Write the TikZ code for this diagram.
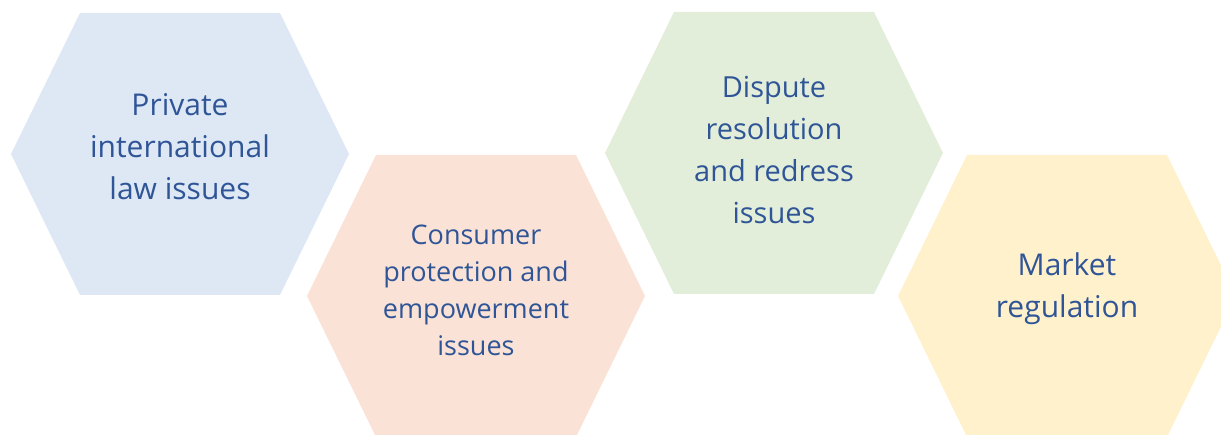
\documentclass[tikz,border=0pt]{standalone}
\usepackage{fontspec}
\setmainfont{Open Sans}
\usepackage{xcolor}
\usetikzlibrary{positioning}

\definecolor{hexblue}{HTML}{DEE8F5}
\definecolor{hexpeach}{HTML}{FAE3D6}
\definecolor{hexgreen}{HTML}{E2EEDA}
\definecolor{hexyellow}{HTML}{FFF1CC}
\definecolor{textblue}{HTML}{2F5597}

\begin{document}
\begin{tikzpicture}[x=1pt,y=1pt,
    issue/.style={align=center,text=textblue,inner sep=0pt,
      font=\fontsize{30}{42}\selectfont}]
                \useasboundingbox (0,0) rectangle (1221,434);

                % Centres des hexagones
                \coordinate (h1) at (180,280);
                \coordinate (h2) at (476,138);
                \coordinate (h3) at (774,281);
                \coordinate (h4) at (1067,138);

                % Hexagones
                \fill[hexblue] (h1) ++(-169,0) -- ++(69,141) -- ++(200,0) -- ++(69,-141) -- ++(-69,-141) -- ++(-200,0) -- cycle;
                \fill[hexpeach] (h2) ++(-169,0) -- ++(69,141) -- ++(200,0) -- ++(69,-141) -- ++(-69,-141) -- ++(-200,0) -- cycle;
                \fill[hexgreen] (h3) ++(-169,0) -- ++(69,141) -- ++(200,0) -- ++(69,-141) -- ++(-69,-141) -- ++(-200,0) -- cycle;
                \fill[hexyellow] (h4) ++(-169,0) -- ++(69,141) -- ++(200,0) -- ++(69,-141) -- ++(-69,-141) -- ++(-200,0) -- cycle;

                % Textes
                \node[issue] (private) at ([yshift=7]h1) {Private\\international\\law issues};
                \node[issue, font=\fontsize{27}{37}\selectfont] (consumer) at ([yshift=6]h2) {Consumer\\protection and\\empowerment\\issues};
                \node[issue, font=\fontsize{29}{42}\selectfont] (dispute) at ([yshift=3]h3) {Dispute\\resolution\\and redress\\issues};
                \node[issue] (market) at ([yshift=7]h4) {Market\\regulation};
              \end{tikzpicture}
\end{document}
